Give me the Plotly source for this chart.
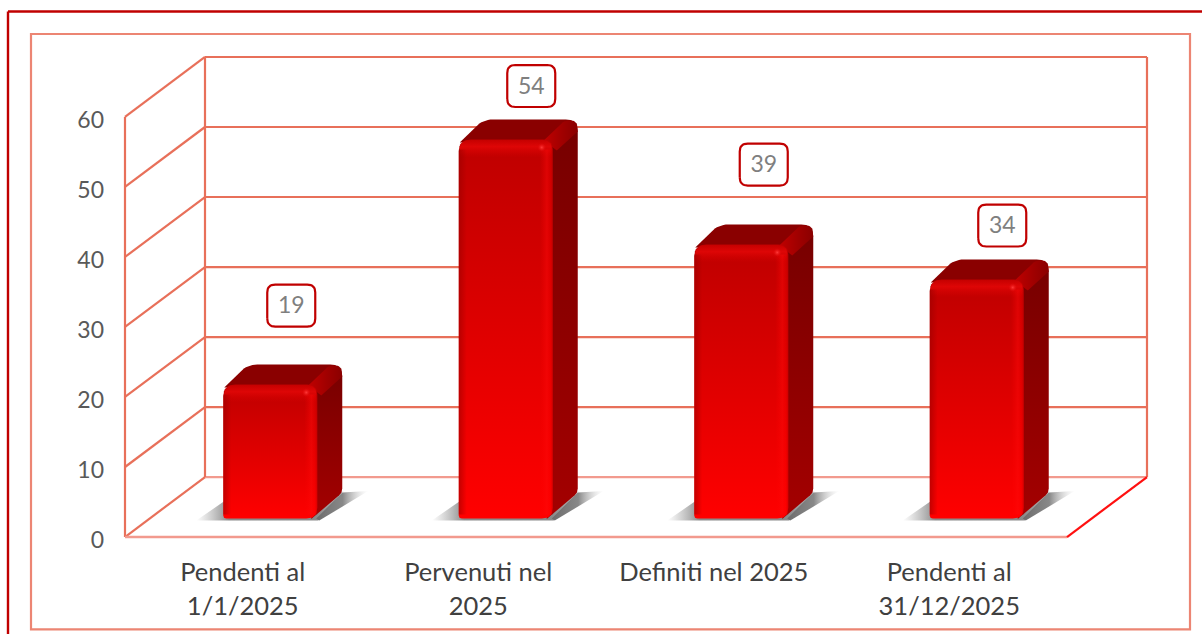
import plotly.graph_objects as go

# ---- data ----
categories = [["Pendenti al", "1/1/2025"], ["Pervenuti nel", "2025"], ["Definiti nel 2025"], ["Pendenti al", "31/12/2025"]]
values = [19, 54, 39, 34]
y_ticks = [0, 10, 20, 30, 40, 50, 60]

# ---- styling / geometry of the pseudo-3D view (in pixels) ----
W, H = 1202, 634
PL, PR, PT, PB = 125, 1147, 57, 537.5
PAD = 12
DEPTH_X, DEPTH_Y = 80, 60
CAT_PX = (PR - PL - DEPTH_X) / len(values)
UNIT_PX = (PB - PT - DEPTH_Y) / 60
FONT = "Lato"
GRID = "#E8705A"
GRID2 = "#F29A8E"

def dx(p): return p / CAT_PX
def dy(p): return p / UNIT_PX
X0, X1 = -0.5, len(values) - 0.5
YMAX = y_ticks[-1]

def rounded(xs, ys, r):
    """Round the corners of a polygon given in data units; r in px (one value or list)."""
    pts = [(x * CAT_PX, y * UNIT_PX) for x, y in zip(xs, ys)]
    n = len(pts)
    rs = r if isinstance(r, (list, tuple)) else [r] * n
    out = []
    for i in range(n):
        p0, p1, p2 = pts[i - 1], pts[i], pts[(i + 1) % n]
        if rs[i] <= 0:
            out.append(p1)
            continue
        def toward(a, b, d):
            L = ((a[0] - b[0]) ** 2 + (a[1] - b[1]) ** 2) ** 0.5
            t = min(d / L, 0.5)
            return (a[0] + (b[0] - a[0]) * t, a[1] + (b[1] - a[1]) * t)
        a, b = toward(p1, p0, rs[i]), toward(p1, p2, rs[i])
        for k in range(9):
            t = k / 8
            out.append(((1 - t) ** 2 * a[0] + 2 * t * (1 - t) * p1[0] + t * t * b[0],
                        (1 - t) ** 2 * a[1] + 2 * t * (1 - t) * p1[1] + t * t * b[1]))
    out.append(out[0])
    return [p[0] / CAT_PX for p in out], [p[1] / UNIT_PX for p in out]

fig = go.Figure()

def line(xs, ys, color=GRID, width=2.2):
    fig.add_trace(go.Scatter(x=xs, y=ys, mode="lines", line=dict(color=color, width=width), cliponaxis=False))

def poly(xs, ys, color=None, grad=None):
    kw = dict(fillcolor=color) if grad is None else dict(fillgradient=grad)
    fig.add_trace(go.Scatter(x=xs, y=ys, mode="lines", fill="toself", line=dict(width=0, color="rgba(0,0,0,0)"),
                             cliponaxis=False, **kw))

def vgrad(y0, y1, c0, c1, mid=None):
    scale = [[0, c0], [1, c1]] if mid is None else [[0, c0], [mid[0], mid[1]], [1, c1]]
    return dict(type="vertical", start=y0, stop=y1, colorscale=scale)

def hgrad(x0, x1, scale):
    return dict(type="horizontal", start=x0, stop=x1, colorscale=scale)

# walls and floor
back_l, back_r = X0 + dx(DEPTH_X), X1 + dx(DEPTH_X)
for t in y_ticks:
    yb = t + dy(DEPTH_Y)
    line([X0, back_l], [t, yb])
    line([back_l, back_r], [yb, yb], color=GRID2 if t == 0 else GRID)
line([X0, X0], [0, YMAX], color=GRID)
line([back_l, back_l], [dy(DEPTH_Y), YMAX + dy(DEPTH_Y)])
line([back_r, back_r], [dy(DEPTH_Y), YMAX + dy(DEPTH_Y)], color=GRID)
line([X0, X1], [0, 0], color=GRID2, width=2.6)
line([X1, back_r], [0, dy(DEPTH_Y)], color="#FF1010", width=2.2)

# bars
BW = 94
BAR_SHIFT = 28 - 0.5
BASE = dy(18.5)
CAP = 1
DX, DY = 25, 20
for i, v in enumerate(values):
    xl = i + dx(BAR_SHIFT - BW / 2)
    xr = xl + dx(BW)
    top = BASE + v + dy(CAP)
    # floor shadow
    poly([xl - dx(27), xl + dx(2), xr + dx(26), xr + dx(26), xr + dx(1)],
         [BASE - dy(2), BASE + dy(18), BASE + dy(27), BASE + dy(27.5), BASE - dy(2)],
         grad=hgrad(xl - dx(27), xr + dx(51),
                    [[0, "rgba(150,150,150,0)"], [0.19, "rgba(125,125,125,0.9)"], [0.7, "rgba(125,125,125,0.9)"],
                     [0.82, "rgba(140,140,140,0.7)"], [1, "rgba(170,170,170,0)"]]))
    poly([xr - dx(1), xr + dx(DX), xr + dx(DX + 26), xr + dx(2)],
         [BASE + dy(0), BASE + dy(26), BASE + dy(27.5), BASE - dy(2)],
         grad=hgrad(xr, xr + dx(DX + 26), [[0, "rgba(110,110,110,1)"], [0.5, "rgba(130,130,130,0.95)"], [1, "rgba(210,210,210,0)"]]))
    # side face
    sx, sy = rounded([xr - dx(6), xr + dx(DX), xr + dx(DX), xr - dx(6)],
                     [top - dy(2), top + dy(DY), BASE + dy(DY + 6), BASE - dy(0.5)], [0, 12, 4, 0])
    poly(sx, sy, grad=vgrad(BASE, top + dy(DY), "#A40000", "#760000"))
    # top face
    tx, ty = rounded([xl + dx(1), xl + dx(DX - 1), xr + dx(DX), xr - dx(1)],
                     [top - dy(3), top + dy(DY), top + dy(DY), top - dy(3)], [0, 10, 12, 0])
    poly(tx, ty, color="#8A0000")
    # bevel from the front corner to the back corner
    bx, by = rounded([xr - dx(9), xr + dx(DX - 14), xr + dx(DX - 1), xr + dx(DX), xr + dx(4)],
                     [top - dy(1), top + dy(DY - 1), top + dy(DY - 1), top + dy(DY - 12), top - dy(11)], [0, 6, 10, 0, 0])
    poly(bx, by, grad=hgrad(xr - dx(9), xr + dx(DX), [[0, "#C00000"], [0.55, "#A00000"], [1, "#8A0000"]]))
    # front face
    fx, fy = rounded([xl, xr, xr, xl], [BASE, BASE, top, top], [3, 11, 10, 12])
    poly(fx, fy, grad=vgrad(BASE, top, "#FF0000", "#BE0000"))
    # top bevel of the front face
    cx, cy = rounded([xl + dx(1), xr - dx(1), xr - dx(1), xl + dx(1)],
                     [top - dy(18), top - dy(18), top - dy(0.5), top - dy(0.5)], [0, 0, 10, 12])
    poly(cx, cy, grad=vgrad(top - dy(18), top, "rgba(215,0,0,0)", "rgba(196,0,0,1)",
                            mid=(0.6, "rgba(222,6,6,1)")))
    # right and left bevels of the front face
    poly([xr - dx(13), xr, xr, xr - dx(13)], [BASE + dy(4), BASE + dy(4), top - dy(10), top - dy(10)],
         grad=hgrad(xr - dx(13), xr, [[0, "rgba(255,0,0,0)"], [0.55, "rgba(255,10,10,0.45)"], [0.8, "rgba(255,0,0,0.25)"], [1, "rgba(170,0,0,0.45)"]]))
    poly([xl, xl + dx(8), xl + dx(8), xl], [BASE + dy(4), BASE + dy(4), top - dy(10), top - dy(10)],
         grad=hgrad(xl, xl + dx(8), [[0, "rgba(150,0,0,0.55)"], [1, "rgba(150,0,0,0)"]]))
    # specular spot
    fig.add_trace(go.Scatter(x=[xr - dx(11)], y=[top - dy(8)], mode="markers", cliponaxis=False,
                             marker=dict(size=9, color="rgba(224,6,6,0)", line=dict(width=0),
                                         gradient=dict(type="radial", color="#FF3A3A"))))

# value labels
LABEL_DX = [21, 25.5, 22.5, 25.5]
LABEL_LIFT = [80, 54.5, 81, 55]
TEXT_DROP = 2
BOX_W, BOX_H = 48, 42
for i, v in enumerate(values):
    cx = i + dx(BAR_SHIFT + LABEL_DX[i])
    cy = BASE + v + dy(LABEL_LIFT[i])
    bx, by = rounded([cx - dx(BOX_W / 2), cx + dx(BOX_W / 2), cx + dx(BOX_W / 2), cx - dx(BOX_W / 2)],
                     [cy - dy(BOX_H / 2), cy - dy(BOX_H / 2), cy + dy(BOX_H / 2), cy + dy(BOX_H / 2)], 8)
    fig.add_trace(go.Scatter(x=bx, y=by, mode="lines", fill="toself", fillcolor="white",
                             line=dict(color="#C00000", width=2.2), cliponaxis=False))
    fig.add_trace(go.Scatter(x=[cx], y=[cy - dy(TEXT_DROP)], mode="text", text=[str(v)], textposition="middle center",
                             textfont=dict(family=FONT, size=23, color="#7F7F7F"), cliponaxis=False))

TICK_SIZE = 25.5
ticktext = ["<br>".join(f"<span style='font-size:{TICK_SIZE}px'>{s}</span>" for s in c) for c in categories]

AL, AR, AT, AB = PL - PAD, PR + PAD, PT - PAD, PB + PAD
def px_x(p): return (p - AL) / (AR - AL)
def px_y(p): return 1 - (p - AT) / (AB - AT)

fig.update_layout(
    width=W, height=H, autosize=False, showlegend=False, hovermode=False,
    paper_bgcolor="white", plot_bgcolor="rgba(0,0,0,0)",
    margin=dict(l=AL, r=W - AR, t=AT, b=H - AB, pad=0),
    xaxis=dict(range=[X0 - dx(PAD), X1 + dx(DEPTH_X + PAD)], tickmode="array", tickvals=list(range(len(values))), ticktext=ticktext,
               showgrid=False, zeroline=False, showline=False, ticks="", ticklabelstandoff=5,
               tickfont=dict(family=FONT, size=26, color="#404040"), tickangle=0, automargin=False),
    yaxis=dict(range=[-dy(PAD), YMAX + dy(DEPTH_Y + PAD)], tickmode="array", tickvals=y_ticks, ticktext=[str(t) for t in y_ticks],
               showgrid=False, zeroline=False, showline=False, ticks="", ticklabelstandoff=8, ticklabelshift=3,
               tickfont=dict(family=FONT, size=23, color="#595959"), automargin=False),
    shapes=[
        dict(type="rect", xref="paper", yref="paper", x0=px_x(31), x1=px_x(1190), y0=px_y(630), y1=px_y(34),
             line=dict(color="#EC8573", width=2.2), layer="below"),
        dict(type="line", xref="paper", yref="paper", x0=px_x(8), x1=px_x(8), y0=px_y(640), y1=px_y(11.5),
             line=dict(color="#C00000", width=2.4), layer="below"),
        dict(type="line", xref="paper", yref="paper", x0=px_x(8), x1=px_x(1210), y0=px_y(11.5), y1=px_y(11.5),
             line=dict(color="#C00000", width=2.4), layer="below"),
    ],
)
fig.write_html("out.html", config=dict(displayModeBar=False, responsive=False),
               post_script="document.body.style.margin='0';document.body.style.overflow='hidden';")
